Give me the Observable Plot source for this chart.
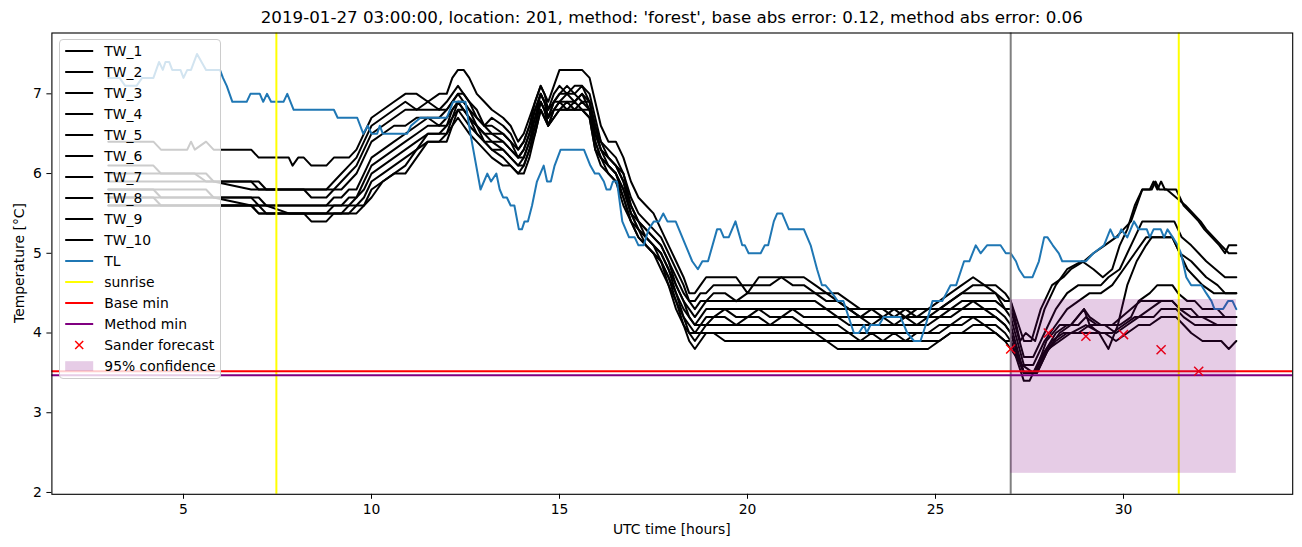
<!DOCTYPE html>
<html><head><meta charset="utf-8">
<script src="https://cdn.jsdelivr.net/npm/d3@7"></script>
<script src="https://cdn.jsdelivr.net/npm/@observablehq/plot@0.6"></script>
<style>
body{margin:0;background:#fff;font-family:"DejaVu Sans",sans-serif;color:#000;}
#wrap{position:relative;width:1302px;height:547px;overflow:hidden;}
.abs{position:absolute;white-space:nowrap;}
</style></head><body><div id="wrap"></div>
<script>
// ---------------- data ----------------
const titleText = "2019-01-27 03:00:00, location: 201, method: 'forest', base abs error: 0.12, method abs error: 0.06";
const xLabel = "UTC time [hours]";
const yLabel = "Temperature [°C]";
const xTicks = [5, 10, 15, 20, 25, 30];
const yTicks = [2, 3, 4, 5, 6, 7];
const twNames = ["TW_1","TW_2","TW_3","TW_4","TW_5","TW_6","TW_7","TW_8","TW_9","TW_10"];

// rows: [hour, TW_1 .. TW_10] from 3 h to ~27 h
const twRows = [
[3.0, 6.4,6.1,6.0,5.9,5.8,5.8,5.7,5.7,5.6,5.6],
[4.2, 6.4,6.1,6.0,5.9,5.8,5.8,5.7,5.7,5.6,5.6],
[4.4, 6.3,6.0,6.0,5.9,5.8,5.7,5.7,5.6,5.6,5.6],
[5.1, 6.3,6.0,6.0,5.9,5.8,5.7,5.7,5.6,5.6,5.6],
[5.2, 6.4,6.0,6.0,5.9,5.8,5.7,5.7,5.6,5.6,5.6],
[5.3, 6.3,6.0,6.0,5.9,5.8,5.7,5.7,5.6,5.6,5.6],
[5.6, 6.4,6.0,5.9,5.9,5.8,5.7,5.7,5.6,5.6,5.6],
[5.8, 6.3,5.9,5.9,5.9,5.7,5.7,5.7,5.6,5.6,5.6],
[6.8, 6.3,5.9,5.9,5.8,5.7,5.7,5.6,5.6,5.6,5.6],
[7.0, 6.2,5.9,5.8,5.8,5.7,5.6,5.6,5.6,5.5,5.5],
[7.2, 6.2,5.8,5.8,5.8,5.6,5.6,5.6,5.5,5.5,5.5],
[7.8, 6.2,5.8,5.8,5.8,5.6,5.6,5.5,5.5,5.5,5.5],
[7.9, 6.1,5.8,5.8,5.8,5.6,5.6,5.5,5.5,5.5,5.5],
[8.05, 6.2,5.8,5.8,5.8,5.6,5.6,5.5,5.5,5.5,5.5],
[8.2, 6.2,5.8,5.8,5.8,5.6,5.6,5.5,5.5,5.5,5.5],
[8.4, 6.1,5.8,5.8,5.7,5.6,5.6,5.5,5.5,5.5,5.4],
[8.8, 6.1,5.8,5.8,5.7,5.6,5.6,5.5,5.5,5.5,5.4],
[9.0, 6.2,5.9,5.8,5.8,5.7,5.6,5.6,5.5,5.5,5.5],
[9.2, 6.2,6.0,5.9,5.8,5.7,5.6,5.6,5.5,5.5,5.5],
[9.4, 6.2,6.1,6.0,5.9,5.8,5.7,5.6,5.6,5.5,5.5],
[9.6, 6.3,6.2,6.1,6.0,5.8,5.7,5.7,5.6,5.6,5.5],
[9.8, 6.5,6.4,6.3,6.2,6.0,5.9,5.8,5.7,5.6,5.6],
[10.0, 6.7,6.6,6.5,6.4,6.2,6.1,6.0,5.9,5.8,5.7],
[10.3, 6.8,6.7,6.6,6.5,6.3,6.2,6.1,6.0,5.9,5.9],
[10.6, 6.9,6.8,6.7,6.6,6.4,6.3,6.2,6.1,6.0,6.0],
[10.9, 7.0,6.9,6.8,6.6,6.5,6.4,6.3,6.2,6.1,6.0],
[11.2, 7.0,6.8,6.8,6.7,6.6,6.5,6.4,6.3,6.3,6.2],
[11.5, 6.9,6.9,6.8,6.7,6.7,6.6,6.5,6.5,6.4,6.4],
[11.8, 7.0,6.8,6.8,6.7,6.6,6.6,6.5,6.5,6.4,6.4],
[12.0, 7.0,6.9,6.8,6.8,6.7,6.6,6.6,6.5,6.5,6.4],
[12.15, 7.2,7.0,6.9,6.9,6.8,6.8,6.7,6.7,6.6,6.6],
[12.3, 7.3,7.1,7.0,7.0,6.9,6.9,6.9,6.8,6.8,6.7],
[12.45, 7.3,7.0,7.0,6.9,6.9,6.8,6.8,6.8,6.7,6.6],
[12.6, 7.2,6.9,6.9,6.8,6.8,6.7,6.7,6.7,6.6,6.5],
[12.8, 7.0,6.8,6.7,6.7,6.6,6.6,6.6,6.5,6.5,6.4],
[13.0, 6.9,6.6,6.6,6.6,6.5,6.5,6.4,6.4,6.4,6.3],
[13.2, 6.8,6.7,6.6,6.5,6.5,6.4,6.4,6.3,6.3,6.2],
[13.5, 6.7,6.6,6.5,6.5,6.4,6.4,6.3,6.3,6.2,6.1],
[13.7, 6.6,6.5,6.4,6.4,6.3,6.3,6.2,6.2,6.1,6.1],
[13.9, 6.4,6.3,6.3,6.2,6.2,6.2,6.1,6.1,6.0,6.0],
[14.05, 6.5,6.4,6.4,6.3,6.3,6.2,6.2,6.1,6.1,6.0],
[14.2, 6.7,6.6,6.6,6.5,6.5,6.4,6.4,6.3,6.3,6.2],
[14.35, 6.9,6.9,6.8,6.8,6.7,6.7,6.6,6.6,6.5,6.5],
[14.5, 7.1,7.1,7.0,7.0,7.0,6.9,6.9,6.9,6.8,6.8],
[14.6, 7.0,7.0,6.9,6.9,6.9,6.8,6.8,6.8,6.7,6.7],
[14.7, 6.9,6.8,6.8,6.7,6.7,6.7,6.6,6.6,6.6,6.6],
[14.85, 7.1,7.0,6.9,6.9,6.9,6.8,6.8,6.8,6.7,6.7],
[15.0, 7.3,7.1,7.0,7.0,6.9,6.9,6.9,6.8,6.8,6.8],
[15.2, 7.3,7.0,7.1,7.0,7.0,6.9,6.8,6.9,6.8,6.8],
[15.4, 7.3,7.1,7.0,6.9,7.0,6.9,6.9,6.8,6.8,6.8],
[15.6, 7.3,7.1,7.1,7.0,6.9,7.0,6.8,6.9,6.8,6.8],
[15.8, 7.2,7.0,6.9,6.9,6.9,6.8,6.8,6.8,6.7,6.7],
[15.95, 6.9,6.7,6.6,6.6,6.5,6.5,6.4,6.4,6.3,6.3],
[16.1, 6.6,6.4,6.4,6.3,6.3,6.3,6.2,6.2,6.2,6.1],
[16.3, 6.4,6.3,6.2,6.2,6.2,6.1,6.1,6.1,6.0,6.0],
[16.5, 6.4,6.2,6.1,6.1,6.1,6.0,6.0,6.0,5.9,5.9],
[16.7, 6.2,6.0,6.0,5.9,5.9,5.8,5.8,5.7,5.7,5.6],
[16.9, 5.9,5.7,5.6,5.6,5.5,5.5,5.5,5.4,5.4,5.4],
[17.1, 5.7,5.5,5.4,5.4,5.4,5.3,5.3,5.3,5.2,5.2],
[17.3, 5.6,5.4,5.3,5.3,5.2,5.2,5.2,5.1,5.1,5.1],
[17.5, 5.5,5.3,5.2,5.2,5.1,5.1,5.1,5.0,5.0,5.0],
[17.7, 5.3,5.2,5.1,5.1,5.0,5.0,4.9,4.9,4.9,4.8],
[17.9, 5.1,5.0,4.9,4.9,4.8,4.8,4.7,4.7,4.6,4.6],
[18.1, 4.9,4.8,4.7,4.6,4.6,4.5,4.5,4.4,4.4,4.3],
[18.3, 4.7,4.6,4.5,4.4,4.4,4.3,4.2,4.2,4.1,4.1],
[18.45, 4.5,4.4,4.4,4.3,4.2,4.2,4.1,4.0,4.0,3.9],
[18.6, 4.5,4.4,4.3,4.2,4.1,4.1,4.0,4.0,3.9,3.8],
[18.75, 4.6,4.5,4.4,4.3,4.2,4.1,4.1,4.0,4.0,3.9],
[18.9, 4.7,4.5,4.4,4.4,4.3,4.2,4.1,4.1,4.0,4.0],
[19.1, 4.7,4.6,4.5,4.4,4.3,4.2,4.2,4.1,4.0,4.0],
[19.4, 4.7,4.6,4.5,4.4,4.3,4.3,4.2,4.1,4.0,3.9],
[19.7, 4.7,4.6,4.4,4.4,4.3,4.2,4.1,4.1,4.0,3.9],
[20.0, 4.5,4.6,4.5,4.4,4.3,4.2,4.2,4.1,4.0,3.9],
[20.3, 4.7,4.6,4.5,4.4,4.3,4.3,4.2,4.1,4.0,3.9],
[20.6, 4.7,4.6,4.5,4.4,4.3,4.2,4.1,4.1,4.0,3.9],
[20.9, 4.7,4.7,4.5,4.4,4.3,4.2,4.2,4.1,4.0,3.9],
[21.2, 4.7,4.6,4.5,4.4,4.3,4.3,4.2,4.1,4.0,3.9],
[21.5, 4.7,4.6,4.5,4.4,4.3,4.2,4.1,4.1,4.0,3.9],
[21.8, 4.6,4.5,4.5,4.4,4.3,4.2,4.1,4.0,4.0,3.9],
[22.1, 4.5,4.5,4.4,4.3,4.3,4.2,4.1,4.0,3.9,3.9],
[22.4, 4.5,4.4,4.4,4.3,4.2,4.2,4.1,4.0,3.9,3.8],
[22.7, 4.4,4.3,4.3,4.3,4.2,4.1,4.0,4.0,3.9,3.8],
[23.0, 4.3,4.3,4.2,4.2,4.2,4.1,4.0,3.9,3.9,3.8],
[23.3, 4.3,4.3,4.3,4.2,4.1,4.1,4.0,4.0,3.9,3.8],
[23.6, 4.3,4.2,4.3,4.2,4.2,4.1,4.0,3.9,3.9,3.8],
[23.9, 4.3,4.3,4.2,4.2,4.1,4.1,4.0,4.0,3.9,3.8],
[24.2, 4.3,4.2,4.3,4.2,4.2,4.1,4.0,3.9,3.9,3.8],
[24.5, 4.3,4.3,4.2,4.2,4.1,4.1,4.0,4.0,3.9,3.8],
[24.8, 4.3,4.3,4.3,4.2,4.2,4.1,4.0,4.0,3.9,3.8],
[25.1, 4.4,4.3,4.3,4.3,4.2,4.2,4.1,4.0,3.9,3.9],
[25.4, 4.5,4.4,4.4,4.3,4.3,4.2,4.1,4.1,4.0,4.0],
[25.7, 4.6,4.5,4.5,4.4,4.3,4.3,4.2,4.1,4.0,4.0],
[26.0, 4.7,4.6,4.5,4.4,4.4,4.3,4.2,4.2,4.1,4.0],
[26.3, 4.6,4.6,4.5,4.4,4.3,4.3,4.2,4.1,4.1,4.0],
[26.6, 4.6,4.5,4.5,4.4,4.3,4.2,4.2,4.1,4.0,4.0],
[26.85, 4.5,4.4,4.3,4.3,4.2,4.1,4.1,4.0,3.9,3.9]
];

// [hour, value] from 27 h to 33 h, one list per TW series
const tw1Late = [[27.0,4.4],[27.35,3.9],[27.55,3.9],[27.8,4.3],[28.1,4.6],[28.4,4.7],[28.6,4.8],[28.95,4.9],[29.2,5.0],[29.5,5.1],[29.8,5.2],[30.0,5.3],[30.2,5.4],[30.35,5.6],[30.5,5.8],[30.7,5.8],[30.8,5.9],[30.9,5.8],[31.0,5.9],[31.1,5.8],[31.4,5.8],[31.6,5.6],[31.8,5.5],[32.0,5.4],[32.15,5.3],[32.35,5.2],[32.55,5.1],[32.7,5.0],[32.8,5.1],[33.0,5.1]];
const tw2Late = [[27.0,4.4],[27.25,3.9],[27.4,4.0],[27.65,3.9],[27.9,4.3],[28.2,4.6],[28.5,4.8],[28.9,4.9],[29.2,4.8],[29.45,4.7],[29.7,4.8],[29.9,5.1],[30.1,5.3],[30.3,5.6],[30.5,5.8],[30.75,5.8],[30.85,5.9],[30.95,5.8],[31.15,5.8],[31.4,5.7],[31.65,5.6],[31.85,5.5],[32.05,5.4],[32.2,5.3],[32.4,5.2],[32.6,5.1],[32.8,5.0],[33.0,5.0]];
const tw3Late = [[27.0,4.3],[27.35,3.7],[27.6,3.7],[27.9,4.0],[28.2,4.3],[28.5,4.5],[28.8,4.6],[29.1,4.6],[29.4,4.6],[29.6,4.7],[29.9,4.8],[30.1,5.0],[30.3,5.2],[30.5,5.4],[31.35,5.4],[31.55,5.2],[31.8,5.1],[32.0,5.0],[32.2,4.9],[32.45,4.8],[32.7,4.7],[33.0,4.7]];
const tw4Late = [[27.0,4.2],[27.35,3.6],[27.6,3.6],[27.9,3.9],[28.2,4.1],[28.5,4.3],[28.8,4.4],[29.1,4.5],[29.4,4.5],[29.7,4.6],[30.0,4.8],[30.3,5.0],[30.6,5.2],[31.3,5.2],[31.5,5.0],[31.8,4.9],[32.0,4.8],[32.2,4.7],[32.5,4.6],[32.7,4.5],[33.0,4.5]];
const tw5Late = [[27.0,4.1],[27.35,3.5],[27.65,3.5],[27.95,3.9],[28.3,4.1],[28.6,4.1],[28.95,4.3],[29.1,4.1],[29.35,4.0],[29.6,3.8],[29.85,4.1],[30.1,4.6],[30.35,4.9],[30.6,5.1],[30.75,5.2],[31.3,5.2],[31.5,5.0],[31.7,4.8],[31.9,4.7],[32.1,4.6],[32.4,4.5],[33.0,4.5]];
const tw6Late = [[27.0,4.0],[27.35,3.5],[27.65,3.5],[27.95,3.8],[28.2,4.0],[28.5,4.1],[28.8,4.1],[29.0,4.2],[29.3,4.1],[29.6,4.1],[29.9,4.1],[30.2,4.2],[30.4,4.4],[30.7,4.5],[30.9,4.6],[31.3,4.6],[31.45,4.5],[31.7,4.4],[31.9,4.4],[32.1,4.3],[32.5,4.3],[32.7,4.2],[33.0,4.2]];
const tw7Late = [[27.0,4.0],[27.35,3.5],[27.7,3.5],[28.0,3.8],[28.3,4.0],[28.6,4.1],[28.95,4.3],[29.1,4.2],[29.4,4.1],[29.7,4.1],[29.95,4.2],[30.2,4.3],[30.45,4.4],[31.3,4.4],[31.5,4.3],[31.8,4.3],[32.0,4.2],[33.0,4.2]];
const tw8Late = [[27.0,3.9],[27.35,3.5],[27.7,3.5],[28.0,3.8],[28.3,3.9],[28.6,4.0],[29.0,4.1],[29.4,4.0],[29.7,4.0],[30.0,4.1],[30.3,4.2],[30.8,4.2],[31.0,4.3],[31.4,4.3],[31.6,4.2],[31.9,4.1],[32.5,4.1],[33.0,4.1]];
const tw9Late = [[27.0,3.9],[27.35,3.4],[27.5,3.4],[27.8,3.7],[28.1,3.9],[28.4,4.0],[28.8,4.0],[29.1,4.1],[29.5,4.1],[29.8,4.0],[30.1,4.1],[30.4,4.2],[30.7,4.3],[31.0,4.4],[31.3,4.4],[31.5,4.3],[31.8,4.2],[32.1,4.2],[32.5,4.1],[33.0,4.1]];
const tw10Late = [[27.0,3.8],[27.3,3.6],[27.6,3.5],[27.85,3.7],[28.2,3.9],[28.5,4.0],[29.0,4.0],[29.5,4.0],[29.8,3.9],[30.1,4.0],[30.4,4.1],[30.7,4.1],[31.0,4.2],[31.4,4.2],[31.6,4.1],[31.8,4.0],[32.1,3.9],[32.6,3.9],[32.8,3.8],[33.0,3.9]];
const twLate = [tw1Late, tw2Late, tw3Late, tw4Late, tw5Late, tw6Late, tw7Late, tw8Late, tw9Late, tw10Late];

// TL series [hour, value]
const tlSeries = [[3.0,7.2],[3.3,7.2],[3.45,7.1],[3.75,7.1],[3.9,7.2],[4.2,7.2],[4.35,7.4],[4.45,7.3],[4.52,7.4],[4.62,7.4],[4.7,7.3],[4.92,7.3],[5.0,7.2],[5.1,7.3],[5.2,7.3],[5.36,7.5],[5.6,7.3],[5.97,7.3],[6.05,7.2],[6.15,7.1],[6.3,6.9],[6.68,6.9],[6.78,7.0],[7.03,7.0],[7.12,6.9],[7.22,7.0],[7.33,6.9],[7.66,6.9],[7.76,7.0],[7.93,6.8],[9.0,6.8],[9.1,6.7],[9.62,6.7],[9.78,6.5],[9.9,6.6],[10.0,6.5],[10.15,6.5],[10.22,6.6],[10.3,6.5],[10.95,6.5],[11.05,6.6],[11.3,6.7],[12.0,6.7],[12.17,6.9],[12.5,6.9],[12.63,6.5],[12.9,5.8],[13.08,6.0],[13.18,5.9],[13.32,6.0],[13.41,5.8],[13.5,5.7],[13.6,5.7],[13.7,5.6],[13.8,5.6],[13.92,5.3],[14.0,5.3],[14.07,5.4],[14.16,5.4],[14.27,5.6],[14.4,5.9],[14.58,6.1],[14.67,5.9],[14.77,5.9],[14.87,6.1],[15.03,6.3],[15.65,6.3],[15.82,6.1],[15.94,6.0],[16.05,6.0],[16.18,5.9],[16.25,5.8],[16.35,5.8],[16.42,5.9],[16.53,5.9],[16.67,5.4],[16.85,5.2],[17.0,5.2],[17.1,5.1],[17.24,5.1],[17.37,5.3],[17.51,5.4],[17.65,5.4],[17.76,5.5],[17.87,5.4],[18.09,5.4],[18.53,4.9],[18.68,4.8],[18.8,4.9],[18.95,4.9],[19.19,5.3],[19.28,5.3],[19.37,5.2],[19.5,5.2],[19.68,5.4],[19.86,5.1],[19.93,5.1],[20.03,5.0],[20.35,5.0],[20.46,5.1],[20.55,5.1],[20.7,5.4],[20.79,5.5],[20.92,5.5],[21.1,5.3],[21.5,5.3],[21.68,5.1],[21.85,4.8],[21.98,4.6],[22.07,4.6],[22.25,4.5],[22.4,4.4],[22.55,4.4],[22.83,4.0],[22.96,4.0],[23.1,4.1],[23.17,4.0],[23.27,4.1],[23.5,4.1],[23.62,4.2],[24.07,4.2],[24.25,4.0],[24.43,3.9],[24.6,3.9],[24.74,4.1],[24.92,4.4],[25.18,4.4],[25.4,4.6],[25.55,4.6],[25.76,4.9],[25.9,4.9],[26.07,5.1],[26.2,5.0],[26.37,5.1],[26.73,5.1],[26.87,5.0],[27.0,5.0],[27.14,4.9],[27.22,4.8],[27.36,4.7],[27.58,4.7],[27.75,4.9],[27.89,5.2],[27.98,5.2],[28.12,5.1],[28.28,5.0],[28.37,4.9],[29.0,4.9],[29.2,5.0],[29.48,5.1],[29.65,5.3],[29.75,5.2],[29.85,5.2],[29.94,5.3],[30.1,5.2],[30.28,5.4],[30.4,5.3],[30.62,5.3],[30.7,5.2],[30.8,5.3],[30.99,5.3],[31.08,5.2],[31.17,5.3],[31.31,5.2],[31.44,5.1],[31.53,5.0],[31.67,4.7],[31.8,4.6],[32.07,4.6],[32.2,4.5],[32.34,4.4],[32.42,4.3],[32.65,4.3],[32.78,4.4],[32.9,4.4],[33.0,4.3]];

const sunriseHours = [7.47, 31.47];
const nowHour = 27;
const baseMin = 3.52;
const methodMin = 3.47;
const sanderHours = [27, 28, 29, 30, 31, 32];
const sanderValues = [3.80, 4.00, 3.96, 3.98, 3.79, 3.52];
const confHours = [27, 33];
const confRange = [2.24, 4.42];
const legendLabels = ["TW_1","TW_2","TW_3","TW_4","TW_5","TW_6","TW_7","TW_8","TW_9","TW_10","TL","sunrise","Base min","Method min","Sander forecast","95% confidence"];

// ---------------- build ----------------
const twData = [];
twNames.forEach((name, k) => {
  twRows.forEach(r => twData.push({series: name, t: r[0], v: r[k + 1]}));
  twLate[k].forEach(([t, v]) => twData.push({series: name, t, v}));
});
const tlData = tlSeries.map(([t, v]) => ({t, v}));
const sanderData = sanderHours.map((t, i) => ({t, v: sanderValues[i]}));
const confData = [{x1: confHours[0], x2: confHours[1], y1: confRange[0], y2: confRange[1]}];

const W = 1302, H = 547;
const mL = 51.4, mR = 9.8, mT = 32.5, mB = 53.2;

const chart = Plot.plot({
  width: W, height: H,
  marginLeft: mL, marginRight: mR, marginTop: mT, marginBottom: mB,
  style: {fontFamily: "DejaVu Sans", fontSize: "13.9px", background: "white", overflow: "visible"},
  x: {domain: [1.5, 34.5], ticks: xTicks, tickSize: 5, tickPadding: 5, label: null, tickFormat: d => String(d)},
  y: {domain: [1.977, 7.763], ticks: yTicks, tickSize: 5, tickPadding: 5, label: null, tickFormat: d => String(d)},
  marks: [
    Plot.line(twData, {x: "t", y: "v", z: "series", stroke: "black", strokeWidth: 2}),
    Plot.line(tlData, {x: "t", y: "v", stroke: "#1f77b4", strokeWidth: 2}),
    Plot.ruleX([nowHour], {stroke: "gray", strokeWidth: 2}),
    Plot.ruleX(sunriseHours, {stroke: "yellow", strokeWidth: 2}),
    Plot.ruleY([baseMin], {stroke: "red", strokeWidth: 2}),
    Plot.ruleY([methodMin], {stroke: "purple", strokeWidth: 2}),
    Plot.dot(sanderData, {x: "t", y: "v", symbol: "times", r: 4.2, stroke: "red", strokeWidth: 1.5}),
    Plot.rect(confData, {x1: "x1", x2: "x2", y1: "y1", y2: "y2", fill: "purple", fillOpacity: 0.2}),
    Plot.frame({stroke: "black", strokeWidth: 1.1})
  ]
});
chart.style.position = "absolute";
chart.style.left = "0px";
chart.style.top = "0px";
const wrap = document.getElementById("wrap");
wrap.appendChild(chart);

// title
const title = document.createElement("div");
title.className = "abs";
title.style.cssText += `left:${mL}px;width:${W - mL - mR}px;top:7px;text-align:center;font-size:16.7px;line-height:20px;`;
title.textContent = titleText;
wrap.appendChild(title);

// x label
const xl = document.createElement("div");
xl.className = "abs";
xl.style.cssText += `left:${mL}px;width:${W - mL - mR}px;top:520px;text-align:center;font-size:13.9px;line-height:18px;`;
xl.textContent = xLabel;
wrap.appendChild(xl);

// y label
const yl = document.createElement("div");
yl.className = "abs";
yl.style.cssText += `left:18.5px;top:263px;font-size:13.9px;line-height:18px;transform:translate(-50%,-50%) rotate(-90deg);`;
yl.textContent = yLabel;
wrap.appendChild(yl);

// legend
const legStyles = [];
for (let i = 0; i < 10; i++) legStyles.push({kind: "line", color: "black"});
legStyles.push({kind: "line", color: "#1f77b4"});
legStyles.push({kind: "line", color: "yellow"});
legStyles.push({kind: "line", color: "red"});
legStyles.push({kind: "line", color: "purple"});
legStyles.push({kind: "x", color: "red"});
legStyles.push({kind: "patch", color: "purple"});

const leg = document.createElement("div");
leg.className = "abs";
leg.style.cssText += "left:59px;top:39px;width:162px;height:340px;border:1px solid #cccccc;border-radius:4px;background:rgba(255,255,255,0.8);box-sizing:border-box;";
wrap.appendChild(leg);
const ns = "http://www.w3.org/2000/svg";
legendLabels.forEach((lab, i) => {
  const cy = 51.3 + i * 21.0 - 39 - 1;
  const svg = document.createElementNS(ns, "svg");
  svg.setAttribute("width", "40"); svg.setAttribute("height", "20");
  svg.style.position = "absolute"; svg.style.left = "0px"; svg.style.top = (cy - 10) + "px";
  const s = legStyles[i];
  if (s.kind === "line") {
    const l = document.createElementNS(ns, "line");
    l.setAttribute("x1", 5.2); l.setAttribute("x2", 33.2); l.setAttribute("y1", 10); l.setAttribute("y2", 10);
    l.setAttribute("stroke", s.color); l.setAttribute("stroke-width", 2);
    svg.appendChild(l);
  } else if (s.kind === "x") {
    const p = document.createElementNS(ns, "path");
    p.setAttribute("d", "M15.2,6L23.2,14M23.2,6L15.2,14");
    p.setAttribute("stroke", s.color); p.setAttribute("stroke-width", 1.5);
    svg.appendChild(p);
  } else {
    const r = document.createElementNS(ns, "rect");
    r.setAttribute("x", 5.2); r.setAttribute("y", 5.2); r.setAttribute("width", 28); r.setAttribute("height", 9.7);
    r.setAttribute("fill", s.color); r.setAttribute("fill-opacity", 0.2);
    svg.appendChild(r);
  }
  leg.appendChild(svg);
  const tx = document.createElement("div");
  tx.className = "abs";
  tx.style.cssText += `left:${104.3 - 59 - 1}px;top:${cy - 10}px;line-height:20px;font-size:13.9px;`;
  tx.textContent = lab;
  leg.appendChild(tx);
});
</script>
</body></html>
